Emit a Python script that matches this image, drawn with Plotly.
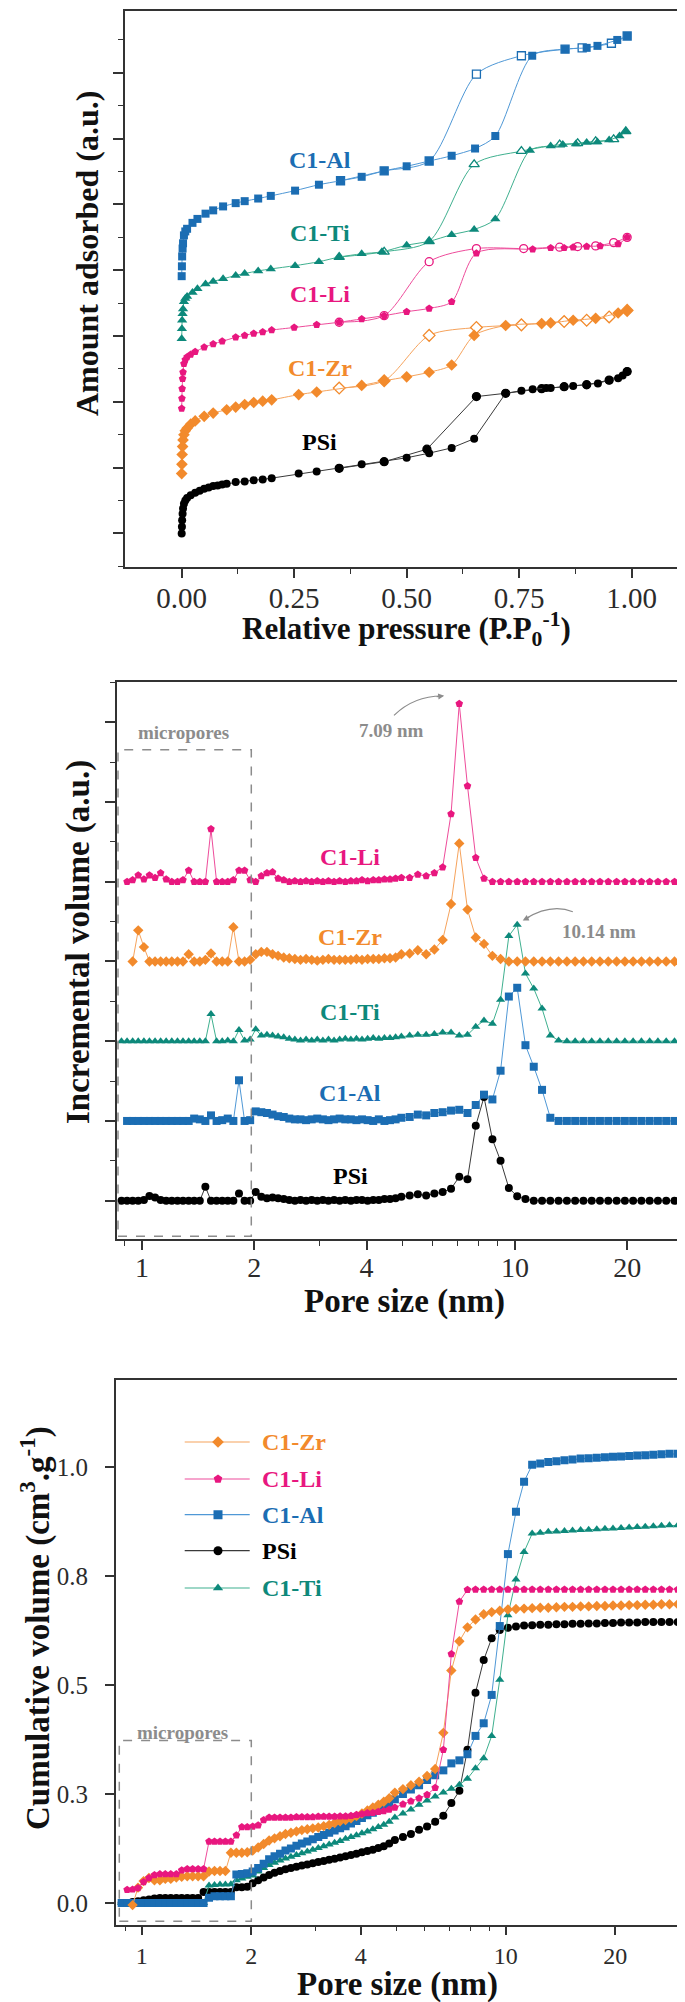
import plotly.graph_objects as go

W, H = 685, 2002

# ---------------- Panel (a): N2 isotherms (relative values, a.u.) ----------------
PSI_ADS_P = [0.0, 0.0005, 0.001, 0.002, 0.003, 0.005, 0.008, 0.012, 0.02, 0.03, 0.04, 0.05, 0.06, 0.07, 0.08,
             0.09, 0.10, 0.12, 0.14, 0.16, 0.18, 0.20, 0.26, 0.30, 0.35, 0.40, 0.45, 0.50, 0.55, 0.60, 0.65,
             0.72, 0.755, 0.78, 0.81, 0.82, 0.85, 0.87, 0.90, 0.925, 0.95, 0.97, 0.98, 0.99]
PSI_ADS_V = [0.0, 0.10, 0.20, 0.30, 0.38, 0.45, 0.50, 0.54, 0.58, 0.62, 0.65, 0.68, 0.70, 0.72, 0.73,
             0.745, 0.755, 0.78, 0.79, 0.81, 0.82, 0.84, 0.91, 0.94, 0.99, 1.05, 1.09, 1.15, 1.22, 1.30, 1.44,
             2.13, 2.17, 2.19, 2.21, 2.21, 2.23, 2.24, 2.26, 2.28, 2.33, 2.36, 2.40, 2.46]
PSI_DES_P = [0.99, 0.95, 0.90, 0.85, 0.80, 0.72, 0.655, 0.545, 0.45, 0.35]
PSI_DES_V = [2.46, 2.33, 2.26, 2.23, 2.20, 2.13, 2.08, 1.28, 1.09, 0.99]

ZR_ADS_P = [0.0, 0.0005, 0.001, 0.002, 0.003, 0.005, 0.008, 0.012, 0.02, 0.03, 0.05, 0.07, 0.10, 0.12, 0.14,
            0.16, 0.18, 0.20, 0.26, 0.30, 0.40, 0.45, 0.50, 0.55, 0.60, 0.65, 0.72, 0.80, 0.82, 0.87, 0.92,
            0.97, 0.99]
ZR_ADS_V = [0.0, 0.14, 0.29, 0.41, 0.51, 0.59, 0.65, 0.69, 0.75, 0.80, 0.87, 0.92, 0.97, 1.01, 1.05,
            1.08, 1.10, 1.12, 1.20, 1.24, 1.34, 1.41, 1.47, 1.54, 1.65, 2.10, 2.25, 2.28, 2.29, 2.33, 2.36,
            2.44, 2.48]
ZR_DES_P = [0.99, 0.95, 0.90, 0.85, 0.755, 0.655, 0.55, 0.45, 0.35]
ZR_DES_V = [2.48, 2.38, 2.33, 2.31, 2.26, 2.22, 2.10, 1.41, 1.30]

LI_ADS_P = [0.0, 0.0005, 0.001, 0.002, 0.003, 0.005, 0.008, 0.012, 0.02, 0.03, 0.05, 0.07, 0.09, 0.12, 0.14,
            0.16, 0.18, 0.20, 0.25, 0.30, 0.35, 0.40, 0.45, 0.50, 0.55, 0.60, 0.655, 0.78, 0.82, 0.85, 0.87,
            0.90, 0.93, 0.97, 0.99]
LI_ADS_V = [0.0, 0.15, 0.30, 0.45, 0.55, 0.68, 0.74, 0.78, 0.82, 0.86, 0.93, 0.98, 1.02, 1.08, 1.11,
            1.14, 1.16, 1.19, 1.23, 1.27, 1.31, 1.36, 1.41, 1.47, 1.52, 1.62, 2.36, 2.42, 2.44, 2.44, 2.45,
            2.46, 2.47, 2.50, 2.60]
LI_DES_P = [0.99, 0.96, 0.92, 0.88, 0.84, 0.76, 0.655, 0.55, 0.45, 0.35]
LI_DES_V = [2.60, 2.52, 2.47, 2.46, 2.45, 2.43, 2.43, 2.23, 1.41, 1.31]

TI_ADS_P = [0.0, 0.0005, 0.001, 0.002, 0.003, 0.005, 0.008, 0.012, 0.024, 0.035, 0.053, 0.07, 0.092, 0.12,
            0.14, 0.17, 0.198, 0.252, 0.305, 0.35, 0.40, 0.445, 0.50, 0.55, 0.60, 0.65, 0.697, 0.774, 0.82,
            0.847, 0.876, 0.90, 0.924, 0.95, 0.973, 0.987]
TI_ADS_V = [0.0, 0.15, 0.28, 0.38, 0.45, 0.56, 0.61, 0.64, 0.70, 0.76, 0.83, 0.87, 0.91, 0.96,
            0.99, 1.03, 1.06, 1.11, 1.17, 1.24, 1.29, 1.32, 1.42, 1.48, 1.58, 1.66, 1.82, 2.86, 2.93,
            2.95, 2.96, 2.98, 2.99, 3.02, 3.08, 3.15]
TI_DES_P = [0.987, 0.96, 0.92, 0.88, 0.84, 0.755, 0.65, 0.55, 0.45, 0.35]
TI_DES_V = [3.15, 3.03, 3.00, 2.97, 2.95, 2.85, 2.65, 1.48, 1.32, 1.24]

AL_ADS_P = [0.0, 0.0005, 0.001, 0.002, 0.003, 0.005, 0.008, 0.012, 0.024, 0.035, 0.053, 0.07, 0.092, 0.12,
            0.14, 0.17, 0.198, 0.252, 0.305, 0.353, 0.40, 0.45, 0.50, 0.55, 0.60, 0.652, 0.697, 0.779,
            0.852, 0.90, 0.924, 0.968, 0.99]
AL_ADS_V = [0.0, 0.15, 0.30, 0.42, 0.50, 0.62, 0.68, 0.72, 0.81, 0.87, 0.95, 1.00, 1.06, 1.11,
            1.14, 1.18, 1.22, 1.30, 1.39, 1.45, 1.51, 1.60, 1.67, 1.75, 1.83, 1.94, 2.13, 3.35,
            3.45, 3.47, 3.50, 3.59, 3.65]
AL_DES_P = [0.99, 0.955, 0.89, 0.852, 0.755, 0.655, 0.55, 0.45, 0.353]
AL_DES_V = [3.65, 3.54, 3.47, 3.45, 3.35, 3.07, 1.75, 1.60, 1.45]

# ---------------- Panels (b) and (c): pore size distribution ----------------
PORE = [0.881, 0.912, 0.944, 0.977, 1.012, 1.047, 1.084, 1.122, 1.161, 1.202,
        1.245, 1.288, 1.334, 1.380, 1.429, 1.479, 1.531, 1.585, 1.641, 1.698,
        1.758, 1.820, 1.884, 1.950, 2.018, 2.089, 2.163, 2.239, 2.317, 2.399,
        2.483, 2.570, 2.661, 2.754, 2.851, 2.951, 3.055, 3.162, 3.273, 3.388,
        3.508, 3.631, 3.758, 3.890, 4.027, 4.169, 4.315, 4.467, 4.624, 4.786,
        4.96, 5.22, 5.49, 5.78, 6.08, 6.40, 6.74, 7.09, 7.46, 7.85,
        8.26, 8.70, 9.15, 9.63, 10.14, 10.67, 11.23, 11.82, 12.44, 13.09,
        13.78, 14.50, 15.26, 16.06, 16.90, 17.79, 18.73, 19.71, 20.74, 21.83,
        22.97, 24.17, 25.44, 26.78, 28.18, 29.67]

INC_PSI = [0, 0, 0, 0, 0.01, 0.06, 0.04, 0.01, 0, 0,
           0, 0, 0, 0, 0, 0.175, 0, 0, 0, 0,
           0, 0.09, 0, 0, 0.11, 0.05, 0.03, 0.04, 0.03, 0.02,
           0.01, 0, 0.01, 0, 0.01, 0, 0.01, 0, 0.01, 0,
           0.01, 0, 0.01, 0.01, 0, 0.01, 0.01, 0.02, 0.02, 0.03,
           0.05, 0.065, 0.08, 0.065, 0.09, 0.11, 0.15, 0.30, 0.27, 0.94,
           1.30, 0.77, 0.50, 0.16, 0.055, 0.02, 0, 0, 0, 0,
           0, 0, 0, 0, 0, 0, 0, 0, 0, 0,
           0, 0, 0, 0, 0, 0]
INC_AL = [None, 0, 0, 0, 0, 0, 0, 0, 0, 0,
          0, 0, 0, 0.03, 0.02, 0, 0.07, 0, 0.01, 0.03,
          0, 0.51, 0, 0.01, 0.12, 0.11, 0.10, 0.08, 0.06, 0.05,
          0.03, 0.02, 0.02, 0.01, 0.02, 0.03, 0.02, 0.01, 0.02, 0.03,
          0.02, 0.02, 0.01, 0.02, 0.01, 0, 0.02, 0, 0.01, 0.02,
          0.04, 0.05, 0.08, 0.07, 0.10, 0.11, 0.13, 0.14, 0.10, 0.20,
          0.33, 0.27, 0.63, 1.56, 1.67, 0.95, 0.68, 0.39, 0.04, 0,
          0, 0, 0, 0, 0, 0, 0, 0, 0, 0,
          0, 0, 0, 0, 0, 0]
INC_TI = [0, 0, 0, 0, 0, 0, 0, 0, 0, 0,
          0, 0, 0, 0, 0, 0, 0.34, 0, 0, 0.01,
          0, 0.14, 0.01, 0.02, 0.15, 0.07, 0.08, 0.07, 0.06, 0.05,
          0.03, 0.02, 0.01, 0.02, 0.01, 0.02, 0.01, 0.02, 0.01, 0.02,
          0.03, 0.02, 0.03, 0.02, 0.03, 0.04, 0.03, 0.04, 0.04, 0.05,
          0.06, 0.07, 0.08, 0.08, 0.09, 0.11, 0.11, 0.07, 0.08, 0.18,
          0.26, 0.22, 0.52, 1.32, 1.46, 0.85, 0.66, 0.41, 0.07, 0.01,
          0, 0, 0, 0, 0, 0, 0, 0, 0, 0,
          0, 0, 0, 0, 0, 0]
INC_ZR = [None, None, 0, 0.39, 0.18, 0, 0, 0, 0, 0,
          0, 0, 0.09, 0, 0, 0.02, 0.10, 0, 0, 0,
          0.43, 0, 0, 0.02, 0.09, 0.12, 0.12, 0.09, 0.07, 0.05,
          0.04, 0.03, 0.02, 0.03, 0.02, 0.01, 0.02, 0.03, 0.02, 0.02,
          0.02, 0.02, 0.03, 0.02, 0.03, 0.03, 0.03, 0.04, 0.04, 0.05,
          0.09, 0.10, 0.14, 0.09, 0.15, 0.27, 0.72, 1.48, 0.65, 0.30,
          0.22, 0.07, 0.03, 0, 0, 0, 0, 0, 0, 0,
          0, 0, 0, 0, 0, 0, 0, 0, 0, 0,
          0, 0, 0, 0, 0, 0]
INC_LI = [None, 0, 0.02, 0.08, 0.03, 0.08, 0.05, 0.11, 0.03, 0,
          0, 0.02, 0.14, 0, 0, 0, 0.66, 0, 0, 0,
          0.02, 0.14, 0.14, 0.02, 0, 0.07, 0.11, 0.12, 0.04, 0.02,
          0, 0.01, 0, 0.01, 0, 0.01, 0, 0.01, 0, 0.01,
          0, 0.01, 0.01, 0.02, 0.01, 0.02, 0.02, 0.03, 0.03, 0.04,
          0.05, 0.05, 0.09, 0.07, 0.11, 0.18, 0.85, 2.23, 1.20, 0.30,
          0.04, 0, 0, 0, 0, 0, 0, 0, 0, 0,
          0, 0, 0, 0, 0, 0, 0, 0, 0, 0,
          0, 0, 0, 0, 0, 0]

CUM_ZR = [None, None, -0.005, 0.035, 0.050, 0.057, 0.052, 0.052, 0.055, 0.055,
          0.058, 0.060, 0.061, 0.061, 0.061, 0.061, 0.072, 0.073, 0.073, 0.073,
          0.115, 0.115, 0.115, 0.116, 0.120, 0.127, 0.135, 0.143, 0.148, 0.153,
          0.158, 0.161, 0.164, 0.167, 0.169, 0.171, 0.173, 0.176, 0.179, 0.183,
          0.187, 0.190, 0.194, 0.199, 0.205, 0.212, 0.219, 0.225, 0.232, 0.240,
          0.253, 0.261, 0.270, 0.278, 0.291, 0.307, 0.390, 0.533, 0.600, 0.632,
          0.650, 0.662, 0.667, 0.670, 0.673, 0.674, 0.675, 0.676, 0.677, 0.677,
          0.678, 0.679, 0.679, 0.680, 0.680, 0.681, 0.681, 0.682, 0.682, 0.683,
          0.683, 0.684, 0.684, 0.685, 0.685, 0.685]
CUM_LI = [None, 0.030, 0.031, 0.034, 0.048, 0.057, 0.064, 0.066, 0.066, 0.066,
          0.066, 0.075, 0.078, 0.078, 0.078, 0.078, 0.141, 0.141, 0.141, 0.141,
          0.141, 0.155, 0.174, 0.174, 0.175, 0.178, 0.190, 0.196, 0.196, 0.196,
          0.196, 0.196, 0.197, 0.197, 0.197, 0.197, 0.198, 0.198, 0.198, 0.198,
          0.199, 0.199, 0.200, 0.202, 0.204, 0.206, 0.207, 0.209, 0.211, 0.214,
          0.219, 0.226, 0.233, 0.240, 0.248, 0.264, 0.351, 0.571, 0.691, 0.718,
          0.719, 0.719, 0.719, 0.719, 0.719, 0.719, 0.719, 0.719, 0.719, 0.719,
          0.719, 0.719, 0.719, 0.719, 0.719, 0.719, 0.719, 0.719, 0.719, 0.719,
          0.719, 0.719, 0.719, 0.719, 0.719, 0.719]
CUM_AL = [0.0, 0.0, 0.0, 0.0, 0.0, 0.0, 0.0, 0.0, 0.0, 0.0,
          0.0, 0.0, 0.0, 0.0, 0.0, 0.0, 0.012, 0.015, 0.015, 0.015,
          0.015, 0.065, 0.066, 0.068, 0.072, 0.080, 0.090, 0.100, 0.107, 0.113,
          0.120, 0.125, 0.131, 0.136, 0.141, 0.146, 0.151, 0.156, 0.161, 0.166,
          0.171, 0.176, 0.182, 0.188, 0.195, 0.201, 0.207, 0.213, 0.219, 0.228,
          0.238, 0.250, 0.260, 0.270, 0.282, 0.293, 0.304, 0.320, 0.327, 0.341,
          0.383, 0.412, 0.477, 0.635, 0.800, 0.897, 0.966, 1.005, 1.008, 1.011,
          1.013, 1.015, 1.017, 1.019, 1.020, 1.021, 1.022, 1.023, 1.024, 1.025,
          1.026, 1.027, 1.028, 1.029, 1.030, 1.030]
CUM_PSI = [0.0, 0.0, 0.002, 0.004, 0.006, 0.008, 0.010, 0.011, 0.011, 0.011,
           0.011, 0.011, 0.011, 0.011, 0.011, 0.025, 0.025, 0.025, 0.025, 0.025,
           0.025, 0.036, 0.036, 0.037, 0.045, 0.052, 0.058, 0.064, 0.069, 0.073,
           0.077, 0.080, 0.083, 0.086, 0.088, 0.091, 0.094, 0.096, 0.099, 0.101,
           0.104, 0.107, 0.110, 0.113, 0.116, 0.119, 0.122, 0.126, 0.130, 0.136,
           0.144, 0.151, 0.158, 0.168, 0.175, 0.186, 0.200, 0.229, 0.257, 0.351,
           0.482, 0.557, 0.607, 0.626, 0.631, 0.634, 0.636, 0.637, 0.638, 0.638,
           0.639, 0.639, 0.640, 0.640, 0.641, 0.641, 0.642, 0.642, 0.643, 0.643,
           0.643, 0.644, 0.644, 0.644, 0.644, 0.644]
CUM_TI = [0.0, 0.0, 0.0, 0.0, 0.0, 0.0, 0.0, 0.0, 0.0, 0.0,
          0.0, 0.0, 0.0, 0.0, 0.0, 0.0, 0.040, 0.041, 0.042, 0.042,
          0.043, 0.052, 0.056, 0.060, 0.063, 0.072, 0.080, 0.087, 0.092, 0.097,
          0.102, 0.106, 0.110, 0.114, 0.118, 0.122, 0.126, 0.130, 0.134, 0.138,
          0.142, 0.147, 0.151, 0.155, 0.160, 0.164, 0.169, 0.174, 0.179, 0.186,
          0.196, 0.205, 0.214, 0.225, 0.235, 0.244, 0.253, 0.262, 0.271, 0.285,
          0.309, 0.332, 0.383, 0.512, 0.660, 0.742, 0.805, 0.847, 0.849, 0.851,
          0.852, 0.853, 0.854, 0.855, 0.856, 0.857, 0.858, 0.859, 0.860, 0.861,
          0.862, 0.863, 0.864, 0.865, 0.866, 0.866]

NAMES = ["PSi", "C1-Zr", "C1-Li", "C1-Ti", "C1-Al"]
TOP_OFFSET = {"PSi": 0.0, "C1-Zr": 0.91, "C1-Li": 1.90, "C1-Ti": 2.96, "C1-Al": 3.91}
MID_OFFSET = {"PSi": 0, "C1-Al": 1, "C1-Ti": 2, "C1-Zr": 3, "C1-Li": 4}

STYLE = {
    "PSi":   dict(color="#000000", line="#3a3a3a", sym="circle", open="circle"),
    "C1-Zr": dict(color="#f28a2c", line="#f6a35c", sym="diamond", open="diamond"),
    "C1-Li": dict(color="#e8177f", line="#ee4c9b", sym="pentagon", open="circle"),
    "C1-Ti": dict(color="#0d897b", line="#3fb08f", sym="triangle-up", open="triangle-up"),
    "C1-Al": dict(color="#1b6db3", line="#4f98d6", sym="square", open="square"),
}
ISO = {
    "PSi": (PSI_ADS_P, PSI_ADS_V, PSI_DES_P, PSI_DES_V),
    "C1-Zr": (ZR_ADS_P, ZR_ADS_V, ZR_DES_P, ZR_DES_V),
    "C1-Li": (LI_ADS_P, LI_ADS_V, LI_DES_P, LI_DES_V),
    "C1-Ti": (TI_ADS_P, TI_ADS_V, TI_DES_P, TI_DES_V),
    "C1-Al": (AL_ADS_P, AL_ADS_V, AL_DES_P, AL_DES_V),
}
INC = {"PSi": INC_PSI, "C1-Al": INC_AL, "C1-Ti": INC_TI, "C1-Zr": INC_ZR, "C1-Li": INC_LI}
CUM = {"C1-Zr": CUM_ZR, "C1-Li": CUM_LI, "C1-Al": CUM_AL, "PSi": CUM_PSI, "C1-Ti": CUM_TI}
LEGEND_ORDER = ["C1-Zr", "C1-Li", "C1-Al", "PSi", "C1-Ti"]

FONT = "Liberation Serif"
AXC = "#333333"
GRAY = "#8c8c8c"


def fx(p):
    return p / W


def fy(p):
    return 1 - p / H


# panel geometry (px)
TOP = (117, 679, 3, 559)
MID = (109, 683, 674.3, 1231)
BOT = (107.7, 671, 1371.7, 1916.7)
BOT_XR = [-0.0714, 1.476]
BOT_YR = [-0.05, 1.2]

fig = go.Figure()

# ---- top panel traces ----
for n in NAMES:
    st = STYLE[n]
    ap, av, dp, dv = ISO[n]
    off = TOP_OFFSET[n]
    shape = "linear" if n == "PSi" else "spline"
    sz = 9 if st["sym"] in ("diamond", "triangle-up") else 8
    fig.add_trace(go.Scatter(
        x=dp, y=[v + off for v in dv], mode="lines+markers", xaxis="x", yaxis="y",
        line=dict(color=st["line"], width=1, shape=shape, smoothing=0.8),
        marker=dict(symbol=st["open"], size=sz,
                    color=st["color"] if n == "PSi" else "white",
                    line=dict(color=st["color"], width=1.3)),
        showlegend=False, hoverinfo="skip"))
    fig.add_trace(go.Scatter(
        x=ap, y=[v + off for v in av], mode="lines+markers", xaxis="x", yaxis="y",
        line=dict(color=st["line"], width=1, shape=shape, smoothing=0.8),
        marker=dict(symbol=st["sym"], size=sz, color=st["color"], line=dict(width=0)),
        showlegend=False, hoverinfo="skip"))

# ---- middle panel traces ----
for n in ["PSi", "C1-Al", "C1-Ti", "C1-Zr", "C1-Li"]:
    st = STYLE[n]
    off = MID_OFFSET[n]
    fig.add_trace(go.Scatter(
        x=PORE, y=[None if v is None else v + off for v in INC[n]],
        mode="lines+markers", xaxis="x2", yaxis="y2",
        line=dict(color=st["line"], width=1),
        marker=dict(symbol=st["sym"], size=8, color=st["color"], line=dict(width=0)),
        showlegend=False, hoverinfo="skip"))

# ---- bottom panel traces ----
for n in ["PSi", "C1-Ti", "C1-Al", "C1-Zr", "C1-Li"]:
    st = STYLE[n]
    fig.add_trace(go.Scatter(
        x=PORE, y=CUM[n], mode="lines+markers", xaxis="x3", yaxis="y3",
        line=dict(color=st["line"], width=1),
        marker=dict(symbol=st["sym"], size=8, color=st["color"], line=dict(width=0)),
        showlegend=False, hoverinfo="skip"))


def bot_x(p):
    return 10 ** (BOT_XR[0] + (p - BOT[0]) / (BOT[1] - BOT[0]) * (BOT_XR[1] - BOT_XR[0]))


def bot_y(p):
    return BOT_YR[0] + (BOT[3] - p) / (BOT[3] - BOT[2]) * (BOT_YR[1] - BOT_YR[0])


annotations = []
LEG_ROWS = [1434, 1471, 1506.7, 1542.7, 1580]
for n, ry in zip(LEGEND_ORDER, LEG_ROWS):
    st = STYLE[n]
    yy = bot_y(ry)
    fig.add_trace(go.Scatter(x=[bot_x(176.7), bot_x(241.7)], y=[yy, yy], mode="lines",
                             xaxis="x3", yaxis="y3", line=dict(color=st["line"], width=1.2),
                             showlegend=False, hoverinfo="skip"))
    fig.add_trace(go.Scatter(x=[bot_x(210)], y=[yy], mode="markers", xaxis="x3", yaxis="y3",
                             marker=dict(symbol=st["sym"], size=9, color=st["color"], line=dict(width=0)),
                             showlegend=False, hoverinfo="skip"))
    annotations.append(dict(text=f"<b>{n}</b>", x=fx(251.7), y=fy(ry), xref="paper", yref="paper",
                            xanchor="left", yanchor="middle", showarrow=False,
                            font=dict(family=FONT, size=24, color=st["color"])))


def ann(text, xp, yp, size, color, angle=0, xa="center", ya="middle"):
    annotations.append(dict(text=text, x=fx(xp), y=fy(yp), xref="paper", yref="paper",
                            showarrow=False, textangle=angle, xanchor=xa, yanchor=ya,
                            font=dict(family=FONT, size=size, color=color)))


# panel labels
for n, yp in zip(["C1-Al", "C1-Ti", "C1-Li", "C1-Zr", "PSi"], [152, 225.2, 285.8, 360.3, 434.3]):
    ann(f"<b>{n}</b>", 311.7, yp, 24, STYLE[n]["color"])
for n, yp in zip(["C1-Li", "C1-Zr", "C1-Ti", "C1-Al", "PSi"], [849.2, 928.5, 1004, 1084.7, 1168.4]):
    ann(f"<b>{n}</b>", 342.4, yp, 24, STYLE[n]["color"])

# axis titles
ann("<b>Relative pressure (P.P<sub>0</sub><sup>-1</sup>)</b>", 398, 621, 31, "#111111")
ann("<b>Amount adsorbed (a.u.)</b>", 79, 246, 32, "#111111", angle=-90)
ann("<b>Pore size (nm)</b>", 396, 1293, 33, "#111111")
ann("<b>Incremental volume (a.u.)</b>", 70, 934, 33, "#111111", angle=-90)
ann("<b>Pore size (nm)</b>", 389, 1976, 33, "#111111")
ann("<b>Cumulative volume (cm<sup>3</sup>.g<sup>-1</sup>)</b>", 27, 1620, 33, "#111111", angle=-90)

# gray annotations
ann("<b>micropores</b>", 175, 724.3, 19, GRAY)
ann("<b>micropores</b>", 174.5, 1724.7, 19, GRAY)
ann("<b>7.09 nm</b>", 383.9, 722.7, 19, GRAY)
ann("<b>10.14 nm</b>", 591, 923.3, 19, GRAY)

# arrowheads of the curved pointers
annotations.append(dict(text="", x=fx(436.2), y=fy(687.8), xref="paper", yref="paper", showarrow=True,
                        ax=-9, ay=1, arrowhead=2, arrowsize=1, arrowwidth=1.2, arrowcolor=GRAY))
annotations.append(dict(text="", x=fx(514.7), y=fy(912.4), xref="paper", yref="paper", showarrow=True,
                        ax=8, ay=-4, arrowhead=2, arrowsize=1, arrowwidth=1.2, arrowcolor=GRAY))


def path_q(p0, c, p1):
    return (f"M {fx(p0[0])},{fy(p0[1])} Q {fx(c[0])},{fy(c[1])} {fx(p1[0])},{fy(p1[1])}")


shapes = [
    dict(type="rect", xref="paper", yref="paper", x0=fx(110), x1=fx(243.3), y0=fy(1228.3), y1=fy(741.7),
         line=dict(color=GRAY, width=1.5, dash="dash"), layer="above"),
    dict(type="rect", xref="paper", yref="paper", x0=fx(111.3), x1=fx(243.3), y0=fy(1913.3), y1=fy(1732.5),
         line=dict(color=GRAY, width=1.5, dash="dash"), layer="above"),
    dict(type="path", xref="paper", yref="paper", path=path_q((386, 707.4), (405.7, 688), (434, 688)),
         line=dict(color=GRAY, width=1.2)),
    dict(type="path", xref="paper", yref="paper", path=path_q((564.8, 903.7), (543, 895), (517, 911)),
         line=dict(color=GRAY, width=1.2)),
]

common = dict(showgrid=False, zeroline=False, showline=True, linecolor=AXC, linewidth=1.5, mirror=True,
              ticks="outside", tickcolor=AXC, tickwidth=1.5)
tickfont_color = "#2b2b2b"

layout = dict(
    width=W, height=H, margin=dict(l=0, r=0, t=0, b=0),
    paper_bgcolor="white", plot_bgcolor="white", template="none",
    annotations=annotations, shapes=shapes,
    xaxis=dict(domain=[fx(TOP[0]), fx(TOP[1])], anchor="y", range=[-0.126, 1.123],
               tickmode="array", tickvals=[0, 0.25, 0.5, 0.75, 1.0],
               ticktext=["0.00", "0.25", "0.50", "0.75", "1.00"], ticklen=9, ticklabelstandoff=-5,
               tickfont=dict(family=FONT, size=29, color=tickfont_color),
               minor=dict(tickmode="array", tickvals=[0.125, 0.375, 0.625, 0.875], ticks="outside",
                          ticklen=5, tickwidth=1.2, tickcolor=AXC, showgrid=False), **common),
    yaxis=dict(domain=[fy(TOP[3]), fy(TOP[2])], anchor="x", range=[-0.51, 7.94],
               tickmode="array", tickvals=[i for i in range(8)], showticklabels=False, ticklen=10,
               minor=dict(tickmode="array", tickvals=[i + 0.5 for i in range(-1, 8)], ticks="outside",
                          ticklen=5, tickwidth=1.2, tickcolor=AXC, showgrid=False), **common),
    xaxis2=dict(domain=[fx(MID[0]), fx(MID[1])], anchor="y2", type="log", range=[-0.067, 1.472],
                tickmode="array", tickvals=[1, 2, 4, 10, 20], ticktext=["1", "2", "4", "10", "20"],
                ticklen=9, ticklabelstandoff=-6, tickfont=dict(family=FONT, size=28, color=tickfont_color),
                minor=dict(tickmode="array", tickvals=[0.9, 3, 5, 6, 7, 8, 9], ticks="outside",
                           ticklen=5, tickwidth=1.2, tickcolor=AXC, showgrid=False), **common),
    yaxis2=dict(domain=[fy(MID[3]), fy(MID[2])], anchor="x2", range=[-0.48, 6.5],
                tickmode="array", tickvals=[i for i in range(7)], showticklabels=False, ticklen=10,
                minor=dict(tickmode="array", tickvals=[i + 0.5 for i in range(-1, 7)], ticks="outside",
                           ticklen=5, tickwidth=1.2, tickcolor=AXC, showgrid=False), **common),
    xaxis3=dict(domain=[fx(BOT[0]), fx(BOT[1])], anchor="y3", type="log", range=BOT_XR,
                tickmode="array", tickvals=[1, 2, 4, 10, 20], ticktext=["1", "2", "4", "10", "20"],
                ticklen=9, tickfont=dict(family=FONT, size=24, color=tickfont_color),
                minor=dict(tickmode="array", tickvals=[0.9, 3, 5, 6, 7, 8, 9], ticks="outside",
                           ticklen=5, tickwidth=1.2, tickcolor=AXC, showgrid=False), **common),
    yaxis3=dict(domain=[fy(BOT[3]), fy(BOT[2])], anchor="x3", range=BOT_YR,
                tickmode="array", tickvals=[0, 0.25, 0.5, 0.75, 1.0],
                ticktext=["0.0", "0.3", "0.5", "0.8", "1.0"], ticklen=9, ticklabelstandoff=12,
                tickfont=dict(family=FONT, size=25, color=tickfont_color), **common),
)
fig.update_layout(**layout)
fig.write_html("out.html")
